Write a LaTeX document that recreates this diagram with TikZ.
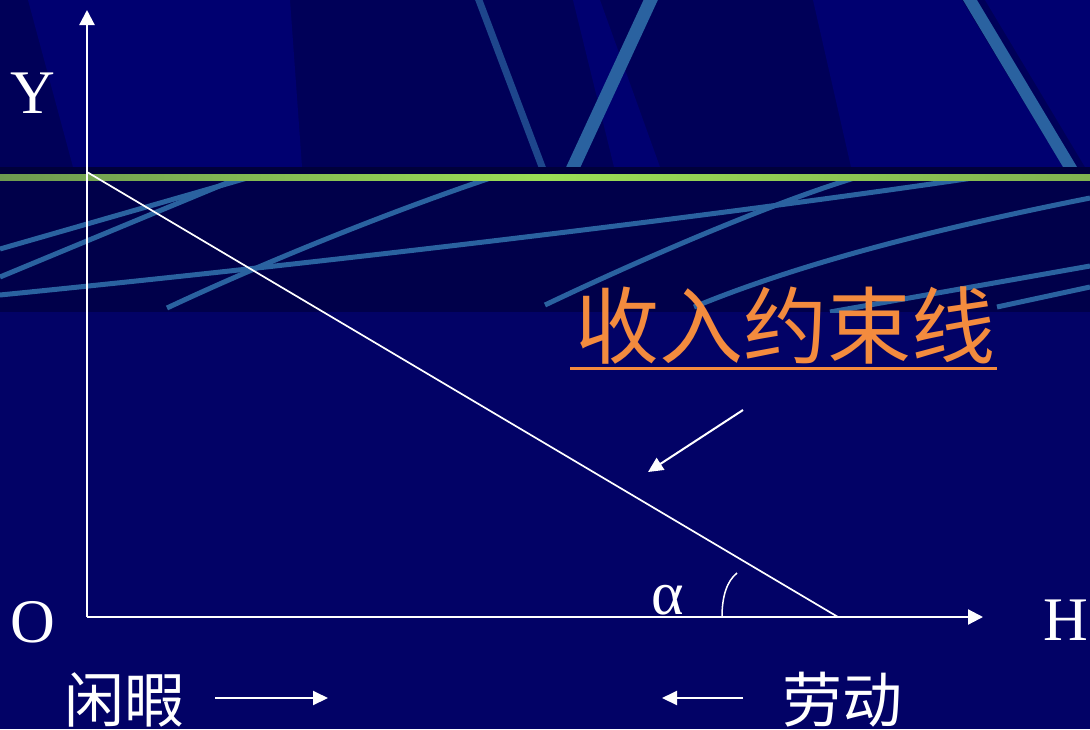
\documentclass[tikz,border=0pt]{standalone}
\usepackage{fontspec}
\setmainfont{Liberation Serif}
\newfontfamily\cjk{Noto Sans CJK SC}
\usetikzlibrary{arrows.meta}
\definecolor{bgmain}{RGB}{2,2,102}
\definecolor{bgband}{RGB}{0,0,74}
\definecolor{bgtop}{RGB}{0,0,88}
\definecolor{bgtoplight}{RGB}{0,0,112}
\definecolor{streak}{RGB}{42,98,160}
\definecolor{streakdim}{RGB}{30,70,140}
\definecolor{titleorange}{RGB}{243,139,62}
\definecolor{greenL}{RGB}{110,154,80}
\definecolor{greenM}{RGB}{155,222,85}
\definecolor{greenR}{RGB}{128,178,80}
\tikzset{
  lbl/.style={inner sep=0pt, text=white, font=\fontsize{62}{62}\selectfont},
  cjklbl/.style={inner sep=0pt, text=white, font=\cjk\fontsize{60}{60}\selectfont},
  titlelbl/.style={inner sep=0pt, text=titleorange, font=\cjk\fontsize{84}{84}\selectfont},
  axisline/.style={draw=white, line width=2.2pt, -{Triangle[length=15pt,width=15pt]}},
  thinarrow/.style={draw=white, line width=2pt, -{Triangle[length=15pt,width=14pt]}},
  budget/.style={draw=white, line width=1.7pt},
  bandstreak/.style={draw=streak, line width=5pt},
  topstreak/.style={draw=streak, line width=13pt}
}
\begin{document}
\begin{tikzpicture}[x=1pt,y=-1pt]
\useasboundingbox (0,0) rectangle (1090,729);
% background
\fill[bgmain] (0,0) rectangle (1090,729);
% top region
\fill[bgtop] (0,0) rectangle (1090,167);
\begin{scope}
\clip (0,0) rectangle (1090,167);
\fill[bgtoplight] (28,0) -- (290,0) -- (302,167) -- (73,167) -- cycle;
\fill[bgtoplight] (573,0) -- (600,0) -- (660,167) -- (614,167) -- cycle;
\fill[bgtoplight] (813,0) -- (962,0) -- (1063,167) -- (851,167) -- cycle;
\fill[bgtoplight] (985,0) -- (1090,0) -- (1090,167) -- (1085,167) -- cycle;
\draw[draw=streakdim, line width=7pt] (477,-5) -- (544,172);
\draw[topstreak] (653,-5) -- (571,172);
\draw[topstreak, line width=12pt] (967,-5) -- (1073,172);
\end{scope}
% dark band
\fill[bgband] (0,167) rectangle (1090,312);
\begin{scope}
\clip (0,167) rectangle (1090,312);
\draw[bandstreak] (0,249) -- (282,168);
\draw[bandstreak] (0,277) -- (258,170);
\draw[bandstreak] (0,295) .. controls (400,255) and (800,205) .. (1039,168);
\draw[bandstreak] (167,308) .. controls (280,255) and (420,200) .. (521,168);
\draw[bandstreak] (545,305) .. controls (650,255) and (790,195) .. (875,172);
\draw[bandstreak] (694,307) .. controls (820,255) and (980,220) .. (1090,198);
\draw[bandstreak] (830,312) -- (1090,266);
\draw[bandstreak] (997,307) -- (1090,287);
\end{scope}
\fill[bgband!80!black] (0,167) rectangle (1090,174);
% green line
\shade[left color=greenL, right color=greenR, middle color=greenM] (0,174) rectangle (1090,180);
% coordinates
\coordinate (orig) at (87,617);
\coordinate (ytip) at (87,10);
\coordinate (xtip) at (983,617);
\coordinate (ycut) at (87,172);
\coordinate (xcut) at (838,617);
\coordinate (pstart) at (743,410);
\coordinate (pend) at (648,472);
\coordinate (arcA) at (722,617);
\coordinate (arcB) at (737,573);
\coordinate (ulL) at (570,368);
\coordinate (ulR) at (997,368);
\coordinate (lArrS) at (215,698);
\coordinate (lArrE) at (328,698);
\coordinate (rArrS) at (743,698);
\coordinate (rArrE) at (662,698);
% axes
\draw[axisline] (orig) -- (ytip);
\draw[axisline] (orig) -- (xtip);
\draw[budget] (ycut) -- (xcut);
\draw[white, line width=1.5pt] (arcA) .. controls (722,596) and (727,581) .. (arcB);
\draw[thinarrow] (pstart) -- (pend);
\draw[thinarrow] (lArrS) -- (lArrE);
\draw[thinarrow] (rArrS) -- (rArrE);
% labels
\node[lbl] (Y) at (33,93) {Y};
\node[lbl] (O) at (33,622) {O};
\node[lbl] (H) at (1066,620) {H};
\node[lbl] (alpha) at (668,600) {α};
\node[cjklbl] (leisure) at (124,700) {闲暇};
\node[cjklbl] (labor) at (842,700) {劳动};
\node[titlelbl] (title) at (785,326) {收入约束线};
\draw[titleorange, line width=3pt] (ulL) -- (ulR);
\end{tikzpicture}
\end{document}
